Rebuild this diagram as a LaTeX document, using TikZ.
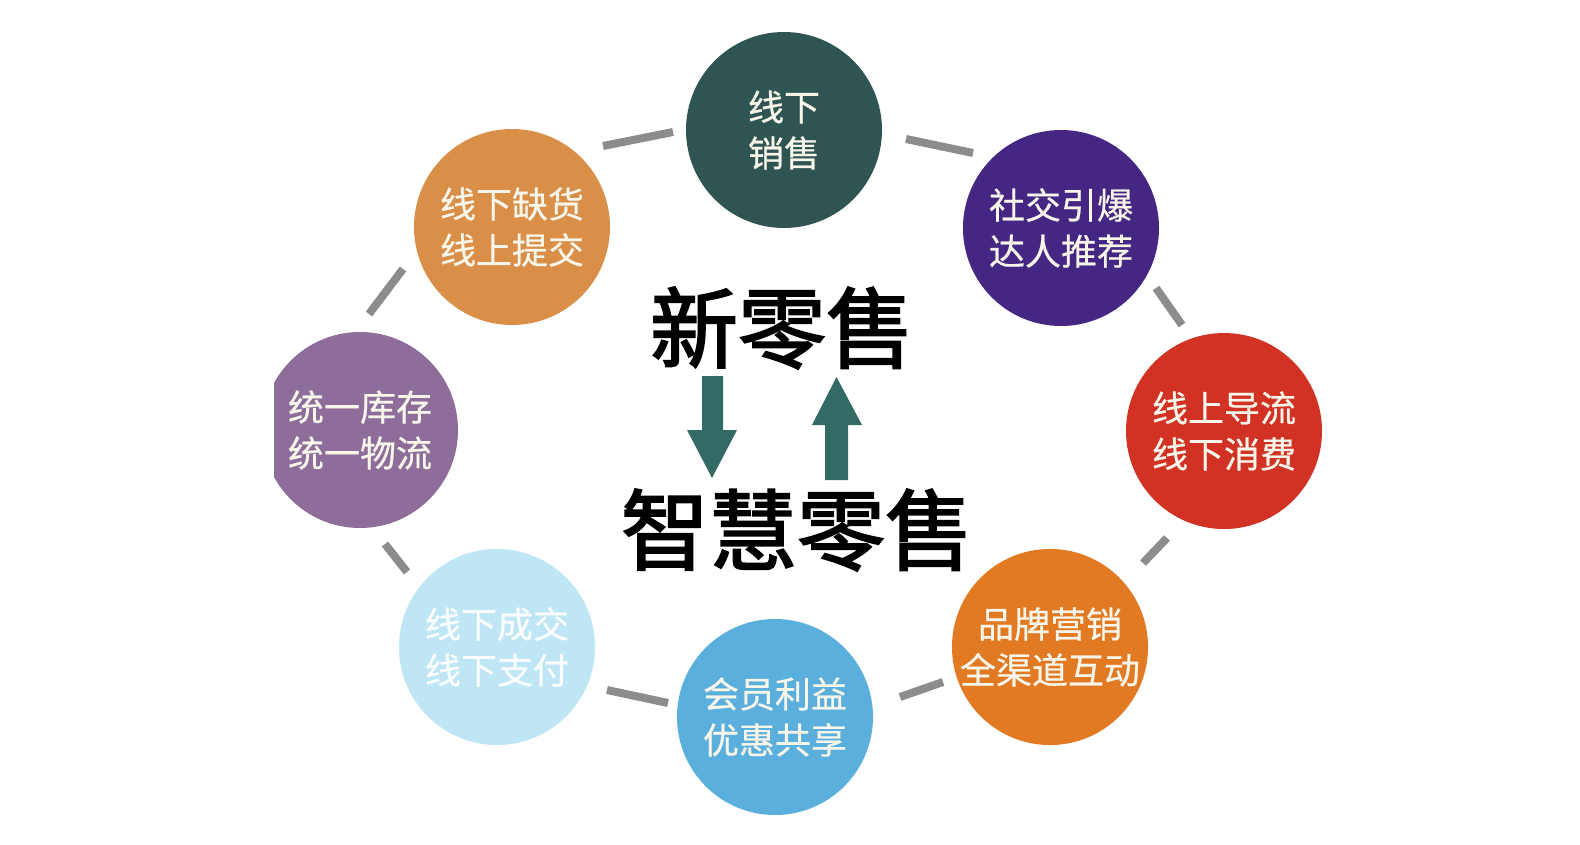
\documentclass[tikz,border=0pt]{standalone}
\usepackage{fontspec}
\newfontfamily\cjk{Noto Sans CJK SC}[FakeBold=0.6]
\newfontfamily\cjkbig{Noto Sans CJK SC}[FakeBold=2.2]
\definecolor{cA}{HTML}{2F5552}
\definecolor{cB}{HTML}{452683}
\definecolor{cC}{HTML}{D13224}
\definecolor{cD}{HTML}{E27A23}
\definecolor{cE}{HTML}{5AAFDC}
\definecolor{cF}{HTML}{BFE6F5}
\definecolor{cG}{HTML}{8E6D9B}
\definecolor{cH}{HTML}{D98F48}
\definecolor{linkgray}{HTML}{8C8C8C}
\definecolor{arrowteal}{HTML}{336B64}
\definecolor{txtw}{HTML}{F8F5EA}
\begin{document}
\begin{tikzpicture}[x=1pt,y=-1pt,
  bubble/.style={circle, minimum size=196pt, inner sep=0pt, text=txtw,
    font=\cjk\fontsize{36}{46}\selectfont, align=center},
  conn/.style={draw=linkgray, line width=8pt},
  bigtext/.style={font=\cjkbig\fontsize{88}{88}\selectfont, inner sep=0pt, text=black},
  bigarrow/.style={fill=arrowteal, draw=none}]
\useasboundingbox[fill=white] (0,0) rectangle (1580,844);

% circles
\node[bubble, fill=cA] (c1) at (784,130) {线下\\销售};
\node[bubble, fill=cB] (c2) at (1061,228) {社交引爆\\达人推荐};
\node[bubble, fill=cC] (c3) at (1224,431) {线上导流\\线下消费};
\node[bubble, fill=cD] (c4) at (1050,647) {品牌营销\\全渠道互动};
\node[bubble, fill=cE] (c5) at (775,717) {会员利益\\优惠共享};
\node[bubble, fill=cF, text=white!94!cF] (c6) at (497,647) {线下成交\\线下支付};
\begin{scope}
  \clip (274,0) rectangle (1580,844);
  \node[bubble, fill=cG] (c7) at (360,430) {统一库存\\统一物流};
\end{scope}
\node[bubble, fill=cH] (c8) at (512,227) {线下缺货\\线上提交};

% connector end points
\coordinate (k81) at (603,146); \coordinate (k18) at (673,132);
\coordinate (k12) at (906,139); \coordinate (k21) at (973,153);
\coordinate (k23) at (1156,288); \coordinate (k32) at (1182,325);
\coordinate (k34) at (1167,538); \coordinate (k43) at (1143,563);
\coordinate (k45) at (943,682); \coordinate (k54) at (900,697);
\coordinate (k56) at (668,703); \coordinate (k65) at (607,690);
\coordinate (k67) at (407,572); \coordinate (k76) at (385,544);
\coordinate (k78) at (369,314); \coordinate (k87) at (403,269);

\draw[conn] (k81) -- (k18);
\draw[conn] (k12) -- (k21);
\draw[conn] (k23) -- (k32);
\draw[conn] (k34) -- (k43);
\draw[conn] (k45) -- (k54);
\draw[conn] (k56) -- (k65);
\draw[conn] (k67) -- (k76);
\draw[conn] (k78) -- (k87);

% central texts
\node[bigtext] (t1) at (782,328) {新零售};
\node[bigtext] (t2) at (797,530) {智慧零售};

% arrows
\fill[bigarrow] (702,376) -- (723,376) -- (723,430) -- (737,430) -- (712,478)
  -- (687,430) -- (702,430) -- cycle;
\fill[bigarrow] (825,480) -- (848,480) -- (848,425) -- (862,425) -- (836.5,377)
  -- (812,425) -- (825,425) -- cycle;
\end{tikzpicture}
\end{document}
